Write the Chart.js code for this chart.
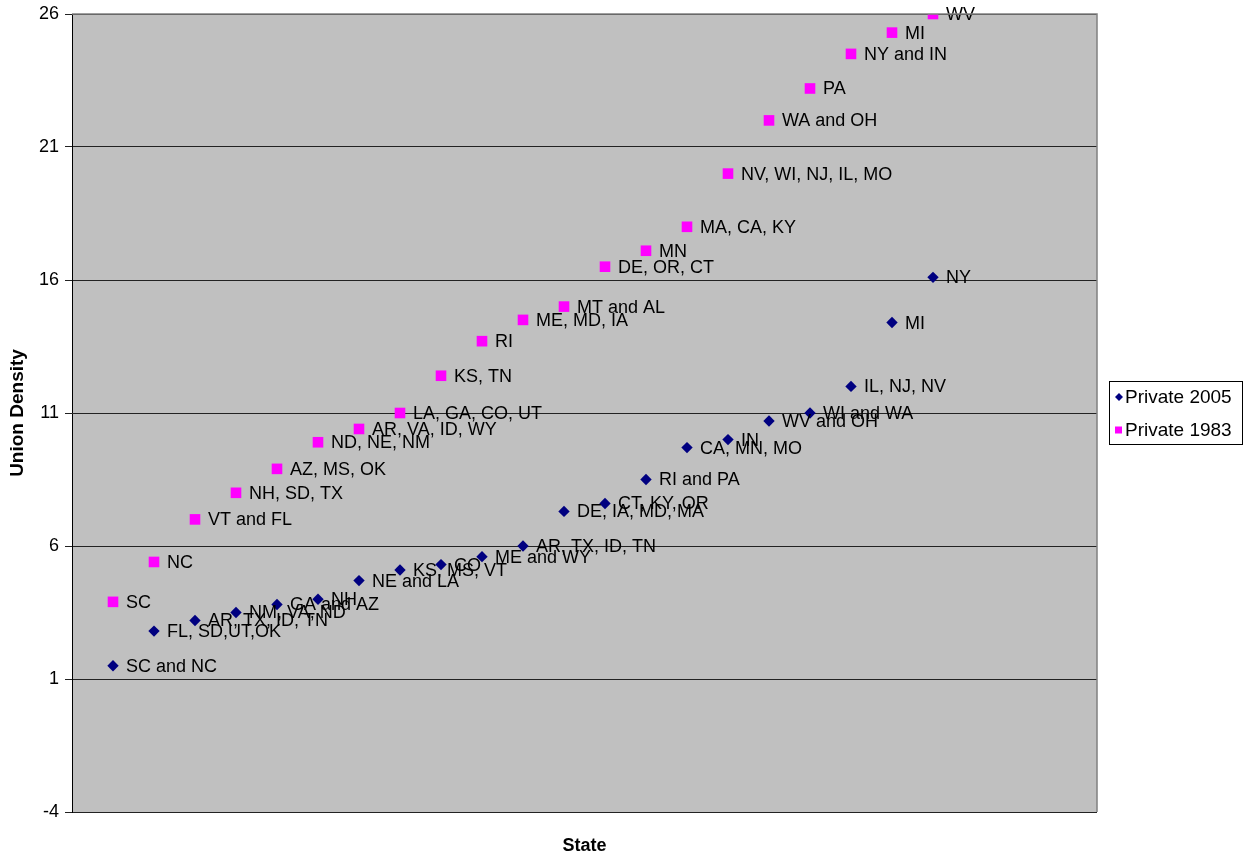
<!DOCTYPE html>
<html>
<head>
<meta charset="utf-8">
<title>Union Density by State</title>
<script src="https://cdn.jsdelivr.net/npm/chart.js@4.4.1/dist/chart.umd.min.js"></script>
<style>
    html, body { margin: 0; padding: 0; background: #fff; }
    #wrap { width: 1249px; height: 863px; position: relative; }
</style>
</head>
<body>
<div id="wrap"><canvas id="chart"></canvas></div>
<script>
// rank of each state group along the x axis
const ranks = [1, 2, 3, 4, 5, 6, 7, 8, 9, 10, 11, 12, 13, 14, 15, 16, 17, 18, 19, 20, 21];

const values2005 = [1.5, 2.8, 3.2, 3.5, 3.8, 4.0, 4.7, 5.1, 5.3, 5.6, 6.0,
    7.3, 7.6, 8.5, 9.7, 10.0, 10.7, 11.0, 12.0, 14.4, 16.1];
const labels2005 = ['SC and NC', 'FL, SD,UT,OK', 'AR, TX, ID, TN', 'NM, VA, ND', 'GA and AZ', 'NH',
    'NE and LA', 'KS, MS, VT', 'CO', 'ME and WY', 'AR, TX, ID, TN', 'DE, IA, MD, MA',
    'CT, KY, OR', 'RI and PA', 'CA, MN, MO', 'IN', 'WV and OH', 'WI and WA',
    'IL, NJ, NV', 'MI', 'NY'];

const values1983 = [3.9, 5.4, 7.0, 8.0, 8.9, 9.9, 10.4, 11.0, 12.4, 13.7, 14.5,
    15.0, 16.5, 17.1, 18.0, 20.0, 22.0, 23.2, 24.5, 25.3, 26.0];
const labels1983 = ['SC', 'NC', 'VT and FL', 'NH, SD, TX', 'AZ, MS, OK', 'ND, NE, NM',
    'AR, VA, ID, WY', 'LA, GA, CO, UT', 'KS, TN', 'RI', 'ME, MD, IA', 'MT and AL',
    'DE, OR, CT', 'MN', 'MA, CA, KY', 'NV, WI, NJ, IL, MO', 'WA and OH', 'PA',
    'NY and IN', 'MI', 'WV'];

const yTicks = [-4, 1, 6, 11, 16, 21, 26];
const seriesNames = ['Private 2005', 'Private 1983'];

const FONT = '"Liberation Sans", Arial, sans-serif';
const NAVY = '#000080';
const MAGENTA = '#FF00FF';

function toPoints(values) {
    return values.map((v, i) => ({ x: ranks[i], y: v }));
}

// gray plot area behind the grid
const plotBackground = {
    id: 'plotBackground',
    beforeDraw(chart) {
        const { ctx, chartArea: a } = chart;
        ctx.save();
        ctx.fillStyle = '#C0C0C0';
        ctx.fillRect(a.left, a.top, a.right - a.left, a.bottom - a.top);
        ctx.restore();
    }
};

// state names next to every marker
const pointLabels = {
    id: 'pointLabels',
    afterDatasetsDraw(chart) {
        const ctx = chart.ctx;
        const allLabels = [labels2005, labels1983];
        ctx.save();
        ctx.font = '18px ' + FONT;
        ctx.fillStyle = '#000';
        ctx.textAlign = 'left';
        ctx.textBaseline = 'middle';
        chart.data.datasets.forEach((ds, di) => {
            const meta = chart.getDatasetMeta(di);
            meta.data.forEach((pt, i) => {
                ctx.fillText(allLabels[di][i], pt.x + 13, pt.y + 1);
            });
        });
        ctx.restore();
    }
};

// gray frame on top/right and the boxed legend on the right
const frameAndLegend = {
    id: 'frameAndLegend',
    afterDraw(chart) {
        const { ctx, chartArea: a } = chart;
        ctx.save();
        ctx.strokeStyle = '#808080';
        ctx.lineWidth = 1.5;
        ctx.beginPath();
        ctx.moveTo(a.left, a.top);
        ctx.lineTo(a.right, a.top);
        ctx.lineTo(a.right, a.bottom);
        ctx.stroke();

        // legend box
        const bx = 1109.5, by = 381.5, bw = 133, bh = 63;
        ctx.strokeStyle = '#000';
        ctx.lineWidth = 1;
        ctx.strokeRect(bx, by, bw, bh);

        ctx.font = '19px ' + FONT;
        ctx.fillStyle = '#000';
        ctx.textAlign = 'left';
        ctx.textBaseline = 'middle';

        // diamond
        const dx = 1119, dy = 397;
        ctx.fillStyle = NAVY;
        ctx.beginPath();
        ctx.moveTo(dx, dy - 4);
        ctx.lineTo(dx + 4, dy);
        ctx.lineTo(dx, dy + 4);
        ctx.lineTo(dx - 4, dy);
        ctx.closePath();
        ctx.fill();
        ctx.fillStyle = '#000';
        ctx.fillText(seriesNames[0], 1125, dy + 1);

        // square
        const sy = 430;
        ctx.fillStyle = MAGENTA;
        ctx.fillRect(1115, sy - 3.5, 7, 7);
        ctx.fillStyle = '#000';
        ctx.fillText(seriesNames[1], 1125, sy + 1);
        ctx.restore();
    }
};

const ctx = document.getElementById('chart').getContext('2d');
new Chart(ctx, {
    type: 'scatter',
    data: {
        datasets: [
            {
                label: seriesNames[0],
                data: toPoints(values2005),
                pointStyle: 'rectRot',
                pointRadius: 5.7,
                pointHoverRadius: 5.7,
                backgroundColor: NAVY,
                borderColor: NAVY,
                borderWidth: 0
            },
            {
                label: seriesNames[1],
                data: toPoints(values1983),
                pointStyle: 'rect',
                pointRadius: 7.5,
                pointHoverRadius: 7.5,
                backgroundColor: MAGENTA,
                borderColor: MAGENTA,
                borderWidth: 0
            }
        ]
    },
    options: {
        responsive: true,
        maintainAspectRatio: false,
        animation: false,
        layout: {
            padding: { top: 14, right: 152, bottom: 0, left: 0 }
        },
        plugins: {
            legend: { display: false },
            tooltip: { enabled: false }
        },
        scales: {
            x: {
                type: 'linear',
                min: 0,
                max: 25,
                ticks: { display: false },
                grid: { display: false },
                border: { display: false },
                title: {
                    display: true,
                    text: 'State',
                    color: '#000',
                    font: { family: FONT, size: 18, weight: 'bold' },
                    padding: { top: 0, bottom: 6 }
                },
                afterFit(scale) { scale.height = 51; }
            },
            y: {
                min: -4,
                max: 26,
                afterBuildTicks(scale) {
                    scale.ticks = yTicks.map(v => ({ value: v }));
                },
                ticks: {
                    color: '#000',
                    font: { family: FONT, size: 18 },
                    padding: 6
                },
                grid: {
                    color: '#222',
                    lineWidth: 1,
                    tickLength: 7,
                    drawTicks: true
                },
                border: { display: true, color: '#000', width: 1 },
                title: {
                    display: true,
                    text: 'Union Density',
                    color: '#000',
                    font: { family: FONT, size: 19, weight: 'bold' },
                    padding: { top: 6, bottom: 0 }
                },
                afterFit(scale) {
                    scale.width = 72;
                    scale.paddingTop = 0;
                    scale.paddingBottom = 0;
                }
            }
        }
    },
    plugins: [plotBackground, pointLabels, frameAndLegend]
});
</script>
</body>
</html>
